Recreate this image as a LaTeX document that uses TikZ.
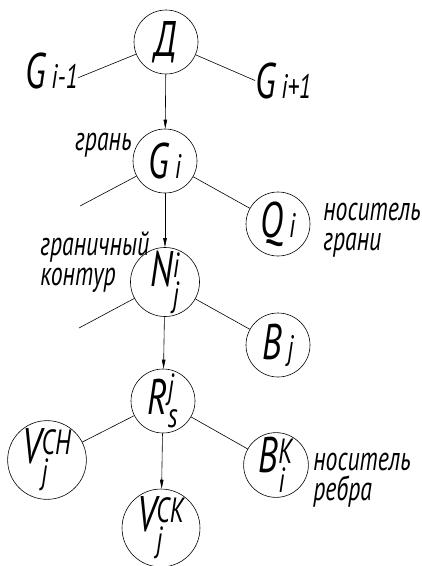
\documentclass[tikz,border=0pt]{standalone}
\usepackage{amsmath}
\usepackage{fontspec}
\setmainfont{PT Sans}[FakeStretch=0.7]
\usetikzlibrary{arrows.meta}
\newcommand{\bigf}{\fontsize{50}{50}\selectfont\itshape}
\newcommand{\labf}{\fontsize{34}{30}\selectfont\itshape}
\newcommand{\idx}[1]{{\fontsize{34}{34}\selectfont #1}}
\newcommand{\supsub}[2]{$^{\text{#1}}_{\text{#2}}$}

\tikzset{
  vert/.style={draw,circle,minimum size=64pt,inner sep=0pt,font=\bigf},
  wide/.style={vert,minimum size=74pt},
  lbl/.style={inner sep=0pt,font=\bigf},
  note/.style={inner sep=0pt,font=\labf,align=left},
  arr/.style={-{Triangle[length=9pt,width=3.5pt]}}
}

\begin{document}
\begin{tikzpicture}[x=1pt,y=-1pt,line width=0.6pt]
  \useasboundingbox (0,0) rectangle (422,566);
  % the spine of the tree
  \node[vert] (D) at (166,42) {Д};
  \node[vert] (Gi) at (165,161) {G\idx{\,i}};
  \node[vert] (Nj) at (165,282) {N\supsub{i}{j}};
  \node[vert] (Rs) at (163,401) {R\supsub{j}{s}};
  \node[wide] (Vck) at (161,528) {V\supsub{CK}{j}};
  % side nodes
  \node[vert] (Qi) at (278,224) {Q\idx{\,i}};
  \node[vert] (Bj) at (278,345) {B\idx{\,j}};
  \node[wide] (Vch) at (47,460) {V\supsub{CH}{j}};
  \node[vert] (Bk) at (276,465) {B\supsub{K}{i}};
  % neighbour faces
  \node[lbl,anchor=base west] (Gprev) at (25,88) {G\idx{\,i-1}};
  \node[lbl,anchor=base west] (Gnext) at (255,98) {G\idx{\,i+1}};
  % free ends
  \coordinate (Gl) at (80,206);
  \coordinate (Nl) at (79,328);
  % notes (base = last line)
  \node[note,anchor=base east] (tFace) at (132,150) {грань};
  \node[note,anchor=base west] (tCarrier) at (323,250) {носитель\\грани};
  \node[note,anchor=base west] (tLoop) at (40,285) {граничный\\контур};
  \node[note,anchor=base west] (tEdge) at (313,500) {носитель\\ребра};
  % connectors
  \draw[arr] (D) -- (Gi);
  \draw[arr] (Gi) -- (Nj);
  \draw[arr] (Nj) -- (Rs);
  \draw[arr] (Rs) -- (Vck);
  \draw (D) -- (Gprev.-15);
  \draw (D) -- (Gnext.west);
  \draw (Gi) -- (Gl);
  \draw (Gi) -- (Qi);
  \draw (Nj) -- (Nl);
  \draw (Nj) -- (Bj);
  \draw (Rs) -- (Vch);
  \draw (Rs) -- (Bk);
\end{tikzpicture}
\end{document}
